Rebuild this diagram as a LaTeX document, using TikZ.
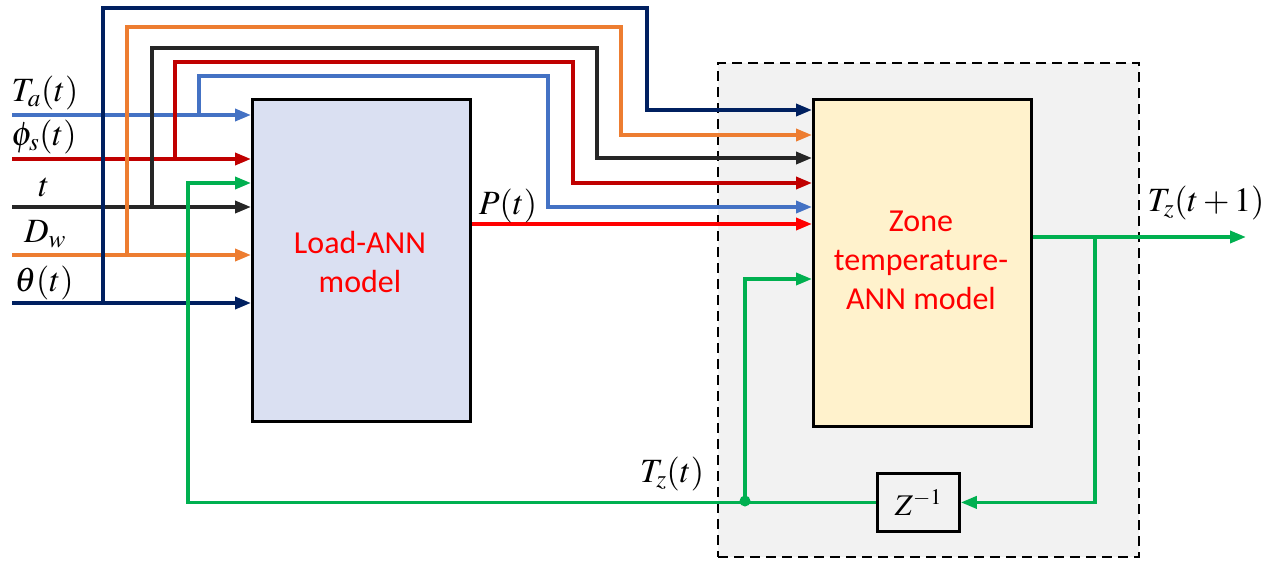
\documentclass[tikz,border=0pt]{standalone}
\usepackage{mathptmx}
\usepackage{fontspec}
\setmainfont{Carlito}
\usetikzlibrary{arrows.meta}
\definecolor{cnavy}{HTML}{002060}
\definecolor{corange}{HTML}{ED7D31}
\definecolor{cblack}{HTML}{262626}
\definecolor{cred}{HTML}{C00000}
\definecolor{cblue}{HTML}{4472C4}
\definecolor{cgreen}{HTML}{00B050}
\definecolor{cpred}{HTML}{FF0000}
\definecolor{loadfill}{HTML}{DAE0F2}
\definecolor{zonefill}{HTML}{FFF2CC}
\definecolor{regfill}{HTML}{F2F2F2}
\tikzset{
  box/.style={draw=black, line width=3.4pt, inner sep=0pt, anchor=north west},
  region/.style={draw=black, line width=2.2pt, dash pattern=on 10pt off 6pt, fill=regfill, inner sep=0pt, anchor=north west},
  lbl/.style={font=\fontsize{34}{36}\selectfont, inner sep=0pt},
  modeltext/.style={font=\fontsize{32}{39}\selectfont, text=cpred, align=center, inner sep=0pt},
  sig/.style={line width=3.6pt, -{Triangle[length=16pt,width=12pt]}},
  wire/.style={line width=3.6pt}
}
\begin{document}
\begin{tikzpicture}[x=1pt,y=-1pt]
\useasboundingbox (0,0) rectangle (1270,560);
% region
\node[region, minimum width=421pt, minimum height=494pt] (reg) at (717,62) {};
% boxes
\node[box, fill=loadfill, minimum width=218pt, minimum height=322pt] (load) at (251,98) {};
\node[box, fill=zonefill, minimum width=218pt, minimum height=327pt] (zbox) at (812,98) {};
\node[box, fill=regfill, line width=2.8pt, minimum width=82pt, minimum height=58pt] (zinv) at (876,472) {};
\node[font=\fontsize{30}{32}\selectfont, inner sep=0pt] (zinvtxt) at (zinv.center) {$Z^{-1}$};
\node[modeltext] (loadtxt) at (360,262) {Load-ANN\\model};
\node[modeltext] (zonetxt) at (921,260) {Zone\\temperature-\\ANN model};
% coordinates
\coordinate (inTa) at (12,115);
\coordinate (inPh) at (12,159);
\coordinate (inT) at (12,207);
\coordinate (inD) at (12,255);
\coordinate (inTh) at (12,303);
\coordinate (brTa) at (199,115);
\coordinate (brPh) at (175,159);
\coordinate (brT) at (152,207);
\coordinate (brD) at (127,255);
\coordinate (brTh) at (103,303);
\coordinate (topTa) at (548,76);
\coordinate (topPh) at (573,62);
\coordinate (topT) at (597,48);
\coordinate (topD) at (621,27);
\coordinate (topTh) at (647,8);
\coordinate (eTa) at (0,207);
\coordinate (ePh) at (0,183);
\coordinate (eT) at (0,158);
\coordinate (eD) at (0,135);
\coordinate (eTh) at (0,110);
\coordinate (pY) at (0,224);
\coordinate (split) at (1095,237);
\coordinate (out) at (1246,237);
\coordinate (fbTop) at (188,183);
\coordinate (dot) at (745,501);
\coordinate (zIn) at (0,279);
% left inputs
\draw[sig, cblue] (inTa) -- (load.west |- inTa);
\draw[sig, cred] (inPh) -- (load.west |- inPh);
\draw[sig, cblack] (inT) -- (load.west |- inT);
\draw[sig, corange] (inD) -- (load.west |- inD);
\draw[sig, cnavy] (inTh) -- (load.west |- inTh);
% branches to zone model
\draw[sig, cnavy] (brTh) |- (topTh) |- (zbox.west |- eTh);
\draw[sig, corange] (brD) |- (topD) |- (zbox.west |- eD);
\draw[sig, cblack] (brT) |- (topT) |- (zbox.west |- eT);
\draw[sig, cred] (brPh) |- (topPh) |- (zbox.west |- ePh);
\draw[sig, cblue] (brTa) |- (topTa) |- (zbox.west |- eTa);
% P(t)
\draw[sig, cpred] (load.east |- pY) -- (zbox.west |- pY);
\node[lbl] (plbl) at (508,206) {$P(t)$};
% output and feedback
\draw[wire, cgreen] (zbox.east |- split) -- (split);
\draw[sig, cgreen] (split) -- (out);
\draw[sig, cgreen] (split) |- (zinv.east);
\draw[sig, cgreen] (zinv.west) -| (fbTop) -- (load.west |- fbTop);
\draw[sig, cgreen] (dot) |- (zbox.west |- zIn);
\fill[cgreen] (dot) circle (5.5pt);
% labels
\node[lbl] (lTa) at (45,93) {$T_a(t)$};
\node[lbl] (lPh) at (44,137) {$\phi_s(t)$};
\node[lbl] (lT) at (44,187) {$t$};
\node[lbl] (lD) at (45,234) {$D_w$};
\node[lbl] (lTh) at (44,283) {$\theta(t)$};
\node[lbl] (lTz) at (672,474) {$T_z(t)$};
\node[lbl] (lTz1) at (1206,203) {$T_z(t+1)$};
\end{tikzpicture}
\end{document}
